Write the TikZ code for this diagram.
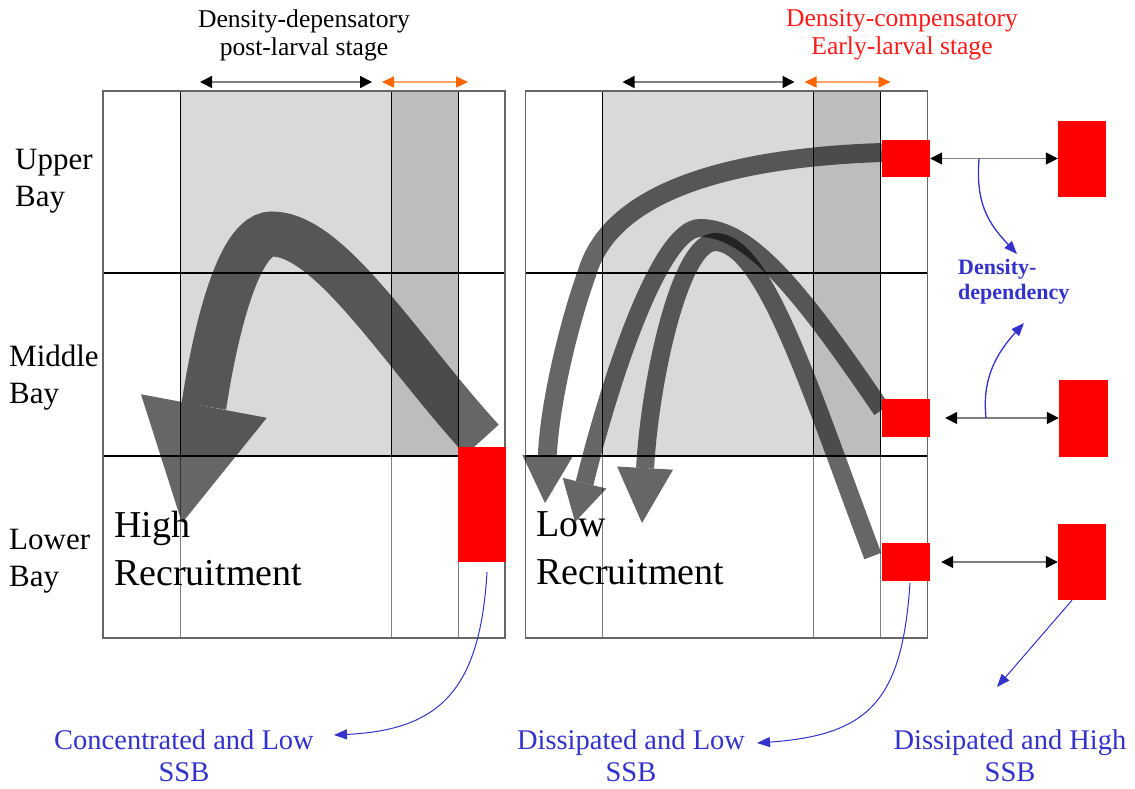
\documentclass[tikz,border=0pt]{standalone}
\usepackage{fontspec}
\setmainfont{Liberation Serif}
\usetikzlibrary{arrows.meta, positioning}
\definecolor{ddblue}{HTML}{3333CC}
\definecolor{stagered}{HTML}{FF1A1A}
\definecolor{orangetip}{HTML}{FF6600}
\definecolor{orangeline}{HTML}{FFA366}
\pgfdeclarelayer{bg}
\pgfdeclarelayer{mid}
\pgfsetlayers{bg,mid,main}
\newcommand{\sz}[2]{\fontsize{#1}{#2}\selectfont}

\begin{document}
\begin{tikzpicture}[x=1pt, y=-1pt,
    patch/.style={fill=red, inner sep=0pt, minimum width=48pt},
    txt/.style={inner sep=0pt, align=left},
    twohead/.style={draw=gray, line width=1.5pt,
      {Triangle[black,length=12pt,width=12pt]}-{Triangle[black,length=12pt,width=12pt]}},
    orangehead/.style={draw=orangeline, line width=1.5pt,
      {Triangle[orangetip,length=12pt,width=11pt]}-{Triangle[orangetip,length=12pt,width=11pt]}},
    bluearr/.style={draw=ddblue, line width=1.3pt, -{Triangle[length=13pt,width=10pt]}},
    flow/.style={draw=black, line width=#1},
    ]
\useasboundingbox (0,0) rectangle (1135,788);

% the two bays
\foreach \dx/\p in {0/L, 422.5/R} {
  \begin{scope}[xshift=\dx]
    \begin{pgfonlayer}{bg}
      \fill[gray!30] (180,91) rectangle (391,456);
      \fill[gray!52] (391,91) rectangle (458,456);
      \foreach \xx in {180,391,458} {
        \draw[black, line width=0.8pt] (\xx,91) -- (\xx,456);
        \draw[gray, line width=0.6pt] (\xx,456) -- (\xx,638);
      }
      \draw[line width=1.5pt] (103,273) -- (505,273) (103,456) -- (505,456);
      \draw[gray!80!black, line width=1.5pt] (103,91) rectangle (505,638);
    \end{pgfonlayer}
    \coordinate (post\p1) at (200,82);
    \coordinate (post\p2) at (372,82);
    \coordinate (early\p1) at (382,82);
    \coordinate (early\p2) at (468,82);
    \draw[twohead] (post\p1) -- (post\p2);
    \draw[orangehead] (early\p1) -- (early\p2);
  \end{scope}
}

% red patches
\node[patch, minimum height=115pt] (boxL) at (482,504.5) {};
\node[patch, minimum height=37pt] (sqUp) at (906,158.5) {};
\node[patch, minimum height=38pt] (sqMid) at (906,418) {};
\node[patch, minimum height=38pt] (sqLow) at (906,562) {};
\node[patch, minimum height=76pt] (farUp) at (1082,158.5) {};
\node[patch, minimum height=77pt, minimum width=49pt] (farMid) at (1083.5,418) {};
\node[patch, minimum height=76pt] (farLow) at (1082,562) {};

% larval flows
\begin{pgfonlayer}{mid}
  \begin{scope}[transparency group, opacity=0.6]
    \draw[flow=45pt, -{Triangle[length=119pt,width=128pt,line width=0pt]}]
      ([yshift=7pt]boxL.north) .. controls (400,350) and (330,234) .. (272,234)
      .. controls (228,234) and (205,400) .. (182,523);
  \end{scope}
  \begin{scope}[transparency group, opacity=0.6]
    \draw[flow=19pt, -{Triangle[length=47pt,width=50pt,line width=0pt]}]
      ([yshift=6pt]sqUp.west) .. controls (720,158) and (610,195) .. (587,273)
      .. controls (570,320) and (550,400) .. (545,503);
  \end{scope}
  \begin{scope}[transparency group, opacity=0.6]
    \draw[flow=18pt, -{Triangle[length=40pt,width=45pt,line width=0pt]}]
      ([yshift=8pt]sqMid.west) .. controls (800,290) and (750,228) .. (700,228)
      .. controls (660,228) and (610,380) .. (575,522);
  \end{scope}
  \begin{scope}[transparency group, opacity=0.6]
    \draw[flow=18pt, -{Triangle[length=55pt,width=56pt,line width=0pt]}]
      ([xshift=-9pt,yshift=6pt]sqLow.west) .. controls (810,390) and (765,242) .. (715,242)
      .. controls (680,242) and (650,380) .. (642,523);
  \end{scope}
\end{pgfonlayer}

% early-larval exchange
\draw[twohead] (sqUp.east) -- coordinate[pos=0.383] (ddTop) (sqUp.east -| farUp.west);
\draw[twohead, shorten <=15pt] (sqMid.east) -- coordinate[pos=0.434] (ddBot) (sqMid.east -| farMid.west);
\draw[twohead, shorten <=11pt] (sqLow.east) -- (sqLow.east -| farLow.west);

% labels
\node[font=\sz{25.6}{28}, align=center, inner sep=0pt] (depens) at (304,35)
  {Density-depensatory\\post-larval stage};
\node[font=\sz{25.6}{28}, align=center, inner sep=0pt, text=stagered] (compens) at (902,35)
  {Density-compensatory\\Early-larval stage};
\node[txt, anchor=west, font=\sz{31}{37}] (upper) at (15,181) {Upper\\Bay};
\node[txt, anchor=west, font=\sz{31}{37}] (middle) at (9,378) {Middle\\Bay};
\node[txt, anchor=west, font=\sz{31}{37}] (lower) at (9,561) {Lower\\Bay};
\node[txt, anchor=west, font=\sz{38}{48}] (high) at (114,548) {High\\Recruitment};
\node[txt, anchor=west, font=\sz{38}{48}] (low) at (536,548) {Low\\Recruitment};
\node[txt, anchor=west, font=\bfseries\sz{22}{25}, text=ddblue] (dd) at (958,282)
  {Density-\\dependency};
\node[font=\sz{28.5}{32}, align=center, inner sep=0pt, text=ddblue] (ssbA) at (184,756)
  {Concentrated and Low\\SSB};
\node[font=\sz{28.5}{32}, align=center, inner sep=0pt, text=ddblue] (ssbB) at (631,756)
  {Dissipated and Low\\SSB};
\node[font=\sz{28.5}{32}, align=center, inner sep=0pt, text=ddblue] (ssbC) at (1010,756)
  {Dissipated and High\\SSB};

% density-dependency links
\coordinate (ddIn) at (1017,254);
\coordinate (ddOut) at (1024,323);
\coordinate (ssbAin) at (334,735);
\coordinate (ssbBin) at (757,743);
\coordinate (ssbCin) at (997,687);
\draw[bluearr] (ddTop) .. controls (975,205) and (990,225) .. (ddIn);
\draw[bluearr] (ddBot) .. controls (982,380) and (995,355) .. (ddOut);
\draw[bluearr, line width=1pt] ([xshift=5pt,yshift=-10pt]boxL.south)
  .. controls (480,690) and (440,730) .. (ssbAin);
\draw[bluearr, line width=1pt] ([xshift=4pt,yshift=-2pt]sqLow.south)
  .. controls (902,700) and (870,735) .. (ssbBin);
\draw[bluearr, line width=1pt] ([xshift=-10pt]farLow.south) -- (ssbCin);
\end{tikzpicture}
\end{document}
